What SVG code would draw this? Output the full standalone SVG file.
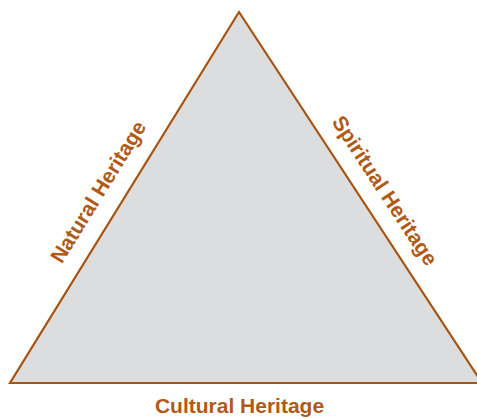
<svg xmlns="http://www.w3.org/2000/svg" width="477" height="419" viewBox="0 0 477 419">
  <style>
    .tri { fill: #dcdddf; stroke: #a8530f; stroke-width: 2.2; stroke-linejoin: miter; }
    .lbl { font-family: "Liberation Sans", Arial, sans-serif; font-weight: bold; font-size: 21px; fill: #b05a18; text-anchor: middle; }
  </style>
  <rect width="477" height="419" fill="#ffffff"/>
  <g id="triangle">
    <polygon class="tri" points="239,12 482,383 10,383"/>
  </g>
  <g id="natural-heritage">
    <text class="lbl" transform="translate(104.4,195.6) rotate(-58.32)" x="0" y="0">Natural Heritage</text>
  </g>
  <g id="spiritual-heritage">
    <text class="lbl" transform="translate(378.9,194.5) rotate(56.78)" x="0" y="0">Spiritual Heritage</text>
  </g>
  <g id="cultural-heritage">
    <text class="lbl" x="239.5" y="413">Cultural Heritage</text>
  </g>
</svg>
